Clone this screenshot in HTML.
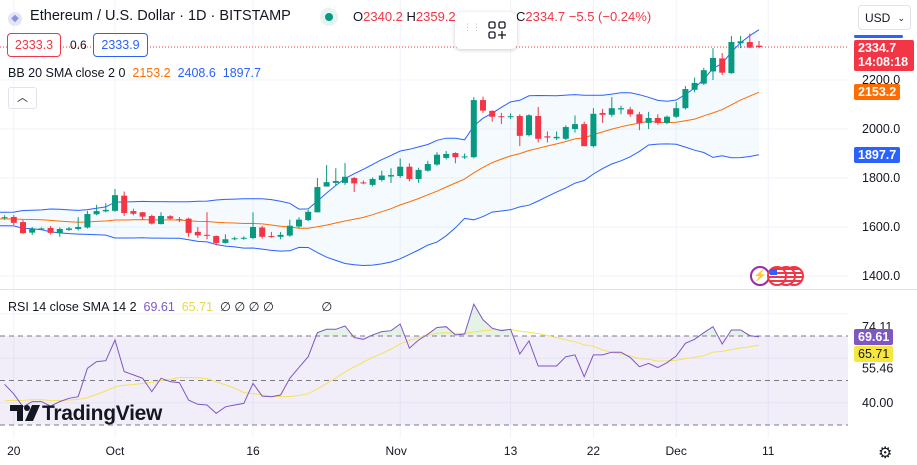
<!DOCTYPE html>
<html><head><meta charset="utf-8">
<style>
body{margin:0;width:917px;height:465px;overflow:hidden;background:#fff;font-family:"Liberation Sans",sans-serif;color:#131722;position:relative}
.a{position:absolute;white-space:nowrap}
.tag{position:absolute;color:#fff;font-size:12.5px;font-weight:bold;padding:0 4px;border-radius:2px;line-height:16px}
</style></head><body>
<svg id="chart" width="917" height="465" style="position:absolute;left:0;top:0"></svg>

<div class="a" style="left:8px;top:8px;font-size:14.5px">
<span style="display:inline-block;width:14px;height:14px;border-radius:7px;background:#e4e6f5;color:#8a92e0;font-size:10px;text-align:center;line-height:14px;vertical-align:-1px">◆</span>
&nbsp;Ethereum / U.S. Dollar · 1D · BITSTAMP</div>
<div class="a" style="left:320px;top:8px;width:18px;height:18px;border-radius:9px;background:#e6f4f0"><div style="margin:5px;width:8px;height:8px;border-radius:4px;background:#089981"></div></div>
<div class="a" style="left:353px;top:9px;font-size:13px">O<span style="color:#f23645">2340.2</span> H<span style="color:#f23645">2359.2</span></div>
<div class="a" style="left:516px;top:9px;font-size:13px">C<span style="color:#f23645">2334.7 −5.5 (−0.24%)</span></div>
<div class="a" style="left:455px;top:12px;width:62px;height:37px;background:#fff;border-radius:6px;box-shadow:0 1px 4px rgba(0,0,0,.2)">
<div style="position:absolute;left:8px;top:13px;color:#bbb;font-size:9px;line-height:4px">⋮⋮</div>
<svg style="position:absolute;left:33px;top:9px" width="18" height="18"><g fill="none" stroke="#131722" stroke-width="1.3"><rect x="1" y="1" width="6" height="6" rx="1.5"/><rect x="11" y="1" width="6" height="6" rx="1.5"/><rect x="1" y="11" width="6" height="6" rx="1.5"/><path d="M14 10v8M10 14h8"/></g></svg></div>
<div class="a" style="left:7px;top:33px;width:52px;height:22px;border:1px solid #f23645;border-radius:4px;color:#f23645;font-size:12.5px;text-align:center;line-height:22px;background:#fff">2333.3</div>
<div class="a" style="left:70px;top:38px;font-size:12px">0.6</div>
<div class="a" style="left:93px;top:33px;width:53px;height:22px;border:1px solid #2962ff;border-radius:4px;color:#2962ff;font-size:12.5px;text-align:center;line-height:22px;background:#fff">2333.9</div>
<div class="a" style="left:8px;top:66px;font-size:12.5px">BB 20 SMA close 2 0 &nbsp;<span style="color:#ff6d00">2153.2</span>&nbsp; <span style="color:#2962ff">2408.6</span>&nbsp; <span style="color:#2962ff">1897.7</span></div>
<div class="a" style="left:8px;top:87px;width:27px;height:20px;border:1px solid #e0e3eb;border-radius:3px;text-align:center;font-size:11px;line-height:20px">︿</div>
<div class="a" style="left:858px;top:5px;width:53px;height:25px;border:1px solid #e0e3eb;border-radius:4px;font-size:12px;line-height:25px;padding-left:6px;box-sizing:border-box">USD <span style="position:absolute;right:5px;font-size:9px">⌄</span></div>

<div class="a" style="left:8px;top:299px;font-size:12.5px">RSI 14 close SMA 14 2 &nbsp;<span style="color:#7e57c2">69.61</span>&nbsp; <span style="color:#e8d84a">65.71</span>&nbsp; ∅ ∅ ∅ ∅ <span style="margin-left:44px">∅</span></div>
<div class="a" style="left:10px;top:402px;font-size:21px;font-weight:bold;letter-spacing:-0.3px">
<svg width="32" height="18" style="vertical-align:-2px"><path d="M0 1h13v16H7V7H0z M15 17l7-16h8l-7 16z" fill="#131722"/><circle cx="17" cy="4" r="3" fill="#131722"/></svg>TradingView</div>
<div class="a" style="left:878px;top:443px;font-size:16px">⚙</div>
<div class="a" style="left:750px;top:266px">
<span style="position:absolute;left:0;top:0;width:16px;height:16px;border:2px solid #9c27b0;border-radius:10px;background:#fff;color:#9c27b0;font-size:11px;text-align:center;line-height:16px">⚡</span>
<span style="position:absolute;left:34px;top:0;width:16px;height:16px;border:2px solid #f23645;border-radius:10px;background:repeating-linear-gradient(#f23645 0 2px,#fff 2px 4px)"></span>
<span style="position:absolute;left:26px;top:0;width:16px;height:16px;border:2px solid #f23645;border-radius:10px;background:repeating-linear-gradient(#f23645 0 2px,#fff 2px 4px)"></span>
<span style="position:absolute;left:17px;top:0;width:16px;height:16px;border:2px solid #f23645;border-radius:10px;background:repeating-linear-gradient(#f23645 0 2px,#fff 2px 4px)"><span style="position:absolute;left:1px;top:1px;width:7px;height:6px;background:#2962ff"></span></span></div>

<script>
// ---- data ----
const dayOffsets=[-12,-11,-10,-9,-8,-7,-6,-5,-4,-3,-2,-1,0,1,2,3,4,5,6,7,8,9,10,11,12,13,14,15,16,17,18,19,20,21,22,23,24,25,26,27,28,29,30,31,32,33,34,35,36,37,38,39,40,41,42,43,44,45,46,47,48,49,50,51,52,53,54,55,56,57,58,59,60,61,62,63,64,65,66,67,68,69,70];
const opens=[1636,1641,1620,1577,1590,1596,1575,1588,1592,1598,1652,1664,1666,1728,1665,1660,1645,1612,1644,1632,1634,1580,1568,1563,1535,1550,1552,1555,1598,1563,1560,1565,1602,1628,1660,1765,1780,1780,1800,1782,1772,1792,1806,1808,1846,1796,1830,1855,1882,1902,1884,1885,2118,2074,2052,2048,2053,1975,2053,1970,1962,1960,2000,2020,1930,2065,2058,2080,2080,2060,2025,2045,2025,2050,2085,2160,2185,2235,2288,2228,2350,2355,2340];
const highs=[1648,1649,1629,1600,1598,1604,1598,1600,1640,1666,1690,1698,1755,1745,1675,1662,1650,1660,1648,1640,1638,1600,1660,1566,1570,1560,1562,1660,1604,1580,1580,1630,1640,1670,1800,1853,1840,1861,1804,1790,1802,1830,1840,1880,1860,1842,1870,1905,1910,1905,1900,2130,2132,2076,2066,2064,2060,2060,2090,1990,1990,2015,2055,2030,2085,2082,2130,2095,2090,2070,2070,2060,2055,2110,2175,2210,2250,2330,2310,2380,2380,2390,2359.2];
const lows=[1630,1608,1571,1567,1588,1570,1560,1584,1586,1594,1648,1660,1662,1645,1648,1630,1610,1610,1630,1620,1560,1556,1550,1525,1532,1546,1548,1550,1552,1556,1550,1560,1596,1624,1660,1775,1770,1772,1743,1774,1766,1786,1780,1800,1786,1780,1826,1850,1876,1860,1878,1880,2066,2030,2020,2040,1930,1970,1945,1945,1955,1955,1985,1930,1925,2025,2050,2060,2050,1995,2000,2018,2020,2045,2080,2150,2180,2200,2220,2225,2330,2330,2330];
const closes=[1640,1617,1575,1594,1594,1576,1592,1594,1600,1653,1665,1670,1730,1657,1654,1642,1614,1645,1634,1628,1576,1566,1565,1535,1550,1554,1556,1600,1560,1560,1568,1605,1630,1662,1763,1783,1788,1805,1778,1778,1796,1810,1812,1846,1796,1833,1857,1895,1898,1885,1888,2118,2075,2050,2048,2052,1972,2056,1960,1965,1968,2008,2020,1930,2062,2058,2085,2085,2060,2025,2045,2025,2050,2085,2163,2188,2240,2290,2230,2355,2358,2332,2334.7];
const priorCloses=[1640,1625,1610,1600,1615,1630,1645,1650,1640,1630,1620,1635,1650,1655,1640,1625,1635,1645,1638,1632];
const rsiValues=[48.3,44,38.2,40.5,40.5,38.5,40.5,42,42.7,55.5,58.5,58.9,68.2,54,52.5,51,45,51,49.5,49,41.2,39.3,39,35.2,38.2,39,39.7,48.7,43,42.7,43.5,51,55.9,60.7,71.5,73,73,74.5,69.3,68.5,70.5,72,72.4,75.4,64.5,68.2,70.8,73.8,74.2,70.5,70.9,84.3,77.3,73.5,72.4,73,61.9,67.8,56.5,56.5,56.5,60.7,61.5,51.7,61.5,61.5,62.7,62.7,60.4,56.2,57.7,55.8,58,61,66.7,68.5,71.5,74.2,66.4,72.7,72.7,70.2,69.61];
const priorRsi=[42,38,36,40,44,41,38,40,43,39,37,42,44];
const priceTicks=[2200,2000,1800,1600,1400];
const rsiTicks=[74.11,55.46,40];
const dateTickOffsets=[-11,0,15,31,43,52,61,71];
const dateTickLabels=["20","Oct","16","Nov","13","22","Dec","11"];

// ---- axes ----
const X=d=>115+d*9.2;
const Y=p=>129-(p-2000)*0.245;
const RY=r=>380.5-(r-50)*2.225;
const NS="http://www.w3.org/2000/svg";
const svg=document.getElementById('chart');
function mk(tag,attrs,parent){const e=document.createElementNS(NS,tag);for(const k in attrs)e.setAttribute(k,attrs[k]);(parent||svg).appendChild(e);return e;}
const PW=848;

dateTickOffsets.forEach((d,i)=>{
  const g=mk('line',{x1:X(d),x2:X(d),y1:0,y2:438,stroke:'#f0f3fa'});
  
  
  const t=mk('text',{x:X(d)+(i==3?-4:0),y:455,'text-anchor':'middle','font-size':12,fill:'#131722','font-family':'Liberation Sans'});
  t.textContent=dateTickLabels[i];
  
  
});
priceTicks.forEach(p=>{
  const g=mk('line',{x1:0,x2:PW,y1:Y(p),y2:Y(p),stroke:'#f0f3fa'});
  
  
  const t=mk('text',{x:862,y:Y(p)+4,'font-size':12.5,fill:'#131722','font-family':'Liberation Sans'});
  t.textContent=p.toFixed(1);
  
  
});
[80,60,40].forEach(r=>{const g=mk('line',{x1:0,x2:PW,y1:RY(r),y2:RY(r),stroke:'#f0f3fa'});
  
  });
const sep=mk('line',{x1:0,x2:917,y1:289.5,y2:289.5,stroke:'#e0e3eb'});



const band=mk('rect',{x:0,y:RY(70),width:PW,height:RY(30)-RY(70),fill:'rgba(126,87,194,0.1)'});


[70,50,30].forEach(r=>{const l=mk('line',{x1:0,x2:PW,y1:RY(r),y2:RY(r),stroke:'#787b86','stroke-dasharray':'5,4','stroke-width':1});
  
  });

// Bollinger
const all=priorCloses.concat(closes);
const allD=priorCloses.map((_,i)=>dayOffsets[0]-priorCloses.length+i).concat(dayOffsets);
const up=[],lo=[],mid=[];
for(let i=19;i<all.length;i++){const s=all.slice(i-19,i+1);const m=s.reduce((a,b)=>a+b)/20;const sd=Math.sqrt(s.reduce((a,b)=>a+(b-m)*(b-m),0)/20);
  mid.push([X(allD[i]),Y(m)]);up.push([X(allD[i]),Y(m+2*sd)]);lo.push([X(allD[i]),Y(m-2*sd)]);}
const pts=a=>a.map(p=>p[0].toFixed(1)+','+p[1].toFixed(1)).join(' ');
const bf=mk('polygon',{points:pts(up)+' '+pts(lo.slice().reverse()),fill:'rgba(33,150,243,0.05)'});


const ul=mk('polyline',{points:pts(up),fill:'none',stroke:'#2962ff','stroke-width':1});


const ll=mk('polyline',{points:pts(lo),fill:'none',stroke:'#2962ff','stroke-width':1});


const ml=mk('polyline',{points:pts(mid),fill:'none',stroke:'#ff6d00','stroke-width':1});



const lp=mk('line',{x1:0,x2:PW,y1:Y(closes[closes.length-1]),y2:Y(closes[closes.length-1]),stroke:'#f23645','stroke-dasharray':'1,2'});



dayOffsets.forEach((d,i)=>{
  const o=opens[i],c=closes[i],h=highs[i],l=lows[i];const col=c>=o?'#089981':'#f23645';
  const g=mk('g',{});
  
  
  mk('line',{x1:X(d),x2:X(d),y1:Y(h),y2:Y(l),stroke:col,'stroke-width':1},g);
  const t=Y(Math.max(o,c)),b=Y(Math.min(o,c));
  mk('rect',{x:X(d)-3,y:t,width:6,height:Math.max(1,b-t),fill:col},g);
});

// RSI
const rall=priorRsi.concat(rsiValues);
const rpts=dayOffsets.map((d,i)=>[X(d),RY(rsiValues[i])]);
const mpts=dayOffsets.map((d,i)=>{const k=i+priorRsi.length;const s=rall.slice(k-13,k+1);return [X(d),RY(s.reduce((a,b)=>a+b)/14)];});
const defs=mk('defs',{});
const cp=mk('clipPath',{id:'ob'},defs);mk('rect',{x:0,y:0,width:PW,height:RY(70)},cp);
const of=mk('polygon',{points:X(dayOffsets[0])+','+RY(70)+' '+pts(rpts)+' '+X(dayOffsets[dayOffsets.length-1])+','+RY(70),fill:'rgba(76,175,80,0.15)','clip-path':'url(#ob)'});


const ma=mk('polyline',{points:pts(mpts),fill:'none',stroke:'#f5e15a','stroke-width':1});


const rl=mk('polyline',{points:pts(rpts),fill:'none',stroke:'#7e57c2','stroke-width':1});


rsiTicks.forEach(r=>{const t=mk('text',{x:862,y:RY(r)+4,'font-size':12.5,fill:'#131722','font-family':'Liberation Sans'});t.textContent=r.toFixed(2);
  
  });
</script>
<div class="tag" style="left:854px;top:35px;width:41px;height:3px;background:#2962ff;line-height:3px"></div>
<div class="tag" style="left:854px;top:40px;width:52px;height:30px;background:#f23645;line-height:14px;padding-top:1px">2334.7<br>14:08:18</div>
<div class="tag" style="left:854px;top:84px;background:#ff6d00">2153.2</div>
<div class="tag" style="left:854px;top:147px;background:#2962ff">1897.7</div>
<div class="tag" style="left:854px;top:329px;background:#7e57c2">69.61</div>
<div class="tag" style="left:854px;top:346px;background:#f5e642;color:#131722;font-weight:normal">65.71</div>
</body></html>
